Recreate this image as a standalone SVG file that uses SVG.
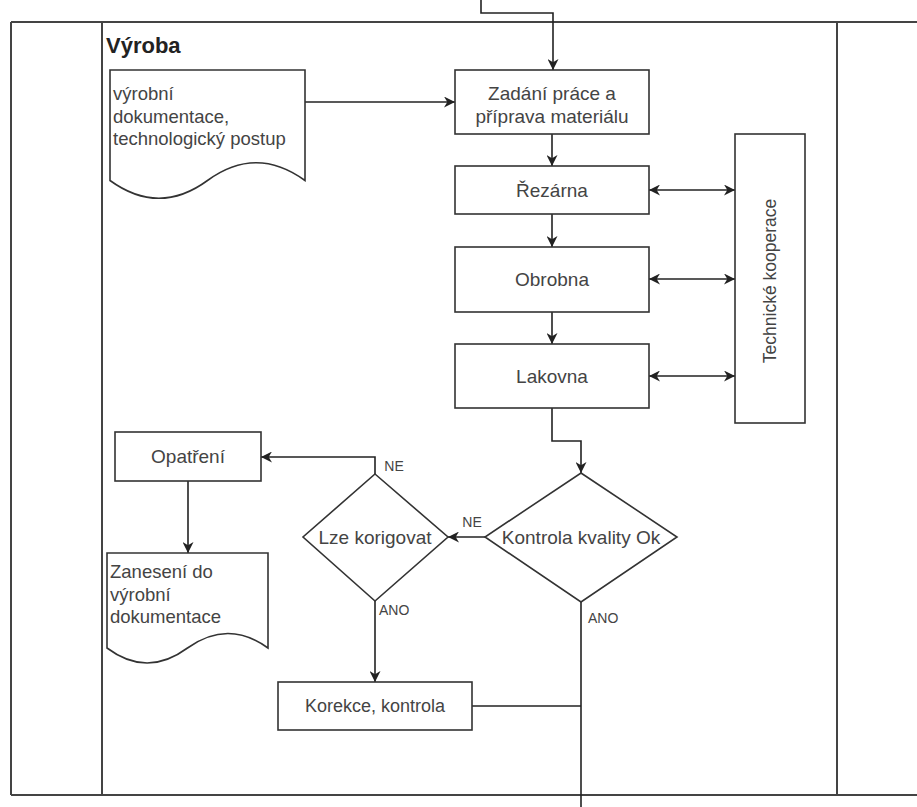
<svg xmlns="http://www.w3.org/2000/svg" width="917" height="807" viewBox="0 0 917 807">
  <style>
    .lane { fill: none; stroke: #444; stroke-width: 2; }
    .box { fill: #fff; stroke: #333; stroke-width: 1.6; }
    .edge { fill: none; stroke: #222; stroke-width: 1.6; }
    .t { font-family: "Liberation Sans", Arial, sans-serif; font-size: 19px; fill: #444; }
    .doc { font-family: "Liberation Sans", Arial, sans-serif; font-size: 18.5px; fill: #444; }
    .lbl { font-family: "Liberation Sans", Arial, sans-serif; font-size: 14px; fill: #444; }
    .title { font-family: "Liberation Sans", Arial, sans-serif; font-size: 22px; font-weight: bold; fill: #222; }
    .c { text-anchor: middle; }
  </style>
  <defs>
    <marker id="arrow" viewBox="0 0 10 10" refX="10" refY="5" markerWidth="11" markerHeight="11" markerUnits="userSpaceOnUse" orient="auto-start-reverse">
      <path d="M0,0 L10,5 L0,10 L3,5 Z" fill="#222"/>
    </marker>
  </defs>
  <rect width="917" height="807" fill="#fff"/>

  <!-- swimlane frame -->
  <g id="lanes">
    <path class="lane" d="M11,22 H917 M11,795 H917 M11,22 V795 M102,22 V795 M837,22 V795"/>
    <text class="title" x="106" y="53">Výroba</text>
  </g>

  <!-- connectors -->
  <g id="connectors">
    <path class="edge" d="M481,0 V13 H553 V70" marker-end="url(#arrow)"/>
    <path class="edge" d="M305,102 H455" marker-end="url(#arrow)"/>
    <path class="edge" d="M552,134 V166" marker-end="url(#arrow)"/>
    <path class="edge" d="M552,214 V247" marker-end="url(#arrow)"/>
    <path class="edge" d="M552,312 V344" marker-end="url(#arrow)"/>
    <path class="edge" d="M649,190 H735" marker-start="url(#arrow)" marker-end="url(#arrow)"/>
    <path class="edge" d="M649,279 H735" marker-start="url(#arrow)" marker-end="url(#arrow)"/>
    <path class="edge" d="M649,376 H735" marker-start="url(#arrow)" marker-end="url(#arrow)"/>
    <path class="edge" d="M552,408 V441 H581 V473" marker-end="url(#arrow)"/>
    <path class="edge" d="M485,537 H448" marker-end="url(#arrow)"/>
    <path class="edge" d="M375,474 V457 H261" marker-end="url(#arrow)"/>
    <path class="edge" d="M188,481 V553" marker-end="url(#arrow)"/>
    <path class="edge" d="M375,601 V682" marker-end="url(#arrow)"/>
    <path class="edge" d="M581,602 V807"/>
    <path class="edge" d="M472,706 H581"/>
    <text class="lbl c" x="472" y="527">NE</text>
    <text class="lbl c" x="394" y="471">NE</text>
    <text class="lbl" x="379" y="615">ANO</text>
    <text class="lbl" x="588" y="623">ANO</text>
  </g>

  <g id="doc-vyrobni">
    <path class="box" d="M110,70 H305 V180.5 Q256,145 207.5,180.5 Q159,216 110,180.5 Z"/>
    <text class="doc" x="113" y="100">výrobní</text>
    <text class="doc" x="113" y="122.5">dokumentace,</text>
    <text class="doc" x="113" y="145">technologický postup</text>
  </g>

  <g id="zadani">
    <rect class="box" x="455" y="70" width="194" height="64"/>
    <text class="t c" x="552" y="100">Zadání práce a</text>
    <text class="t c" x="552" y="122.5">příprava materiálu</text>
  </g>

  <g id="rezarna">
    <rect class="box" x="455" y="166" width="194" height="48"/>
    <text class="t c" x="552" y="196.5">Řezárna</text>
  </g>

  <g id="obrobna">
    <rect class="box" x="455" y="247" width="194" height="65"/>
    <text class="t c" x="552" y="286">Obrobna</text>
  </g>

  <g id="lakovna">
    <rect class="box" x="455" y="344" width="194" height="64"/>
    <text class="t c" x="552" y="383">Lakovna</text>
  </g>

  <g id="kooperace">
    <rect class="box" x="735" y="134" width="70" height="289"/>
    <text class="t c" transform="translate(770,281) rotate(-90)" x="0" y="6" style="font-size:17.5px">Technické kooperace</text>
  </g>

  <g id="kontrola">
    <path class="box" d="M581,473 L677,537 L581,602 L485,537 Z"/>
    <text class="t c" x="581" y="544">Kontrola kvality Ok</text>
  </g>

  <g id="lze-korigovat">
    <path class="box" d="M375,474 L448,537 L375,601 L303,537 Z"/>
    <text class="t c" x="375" y="544">Lze korigovat</text>
  </g>

  <g id="opatreni">
    <rect class="box" x="115" y="432" width="146" height="49"/>
    <text class="t c" x="188" y="463">Opatření</text>
  </g>

  <g id="doc-zaneseni">
    <path class="box" d="M107,553 H268 V648 Q228,619 187.5,648 Q147,678 107,648 Z"/>
    <text class="doc" x="110" y="578">Zanesení do</text>
    <text class="doc" x="110" y="600.5">výrobní</text>
    <text class="doc" x="110" y="623">dokumentace</text>
  </g>

  <g id="korekce">
    <rect class="box" x="278" y="682" width="194" height="48"/>
    <text class="t c" x="375" y="712" style="font-size:18px">Korekce, kontrola</text>
  </g>
</svg>
